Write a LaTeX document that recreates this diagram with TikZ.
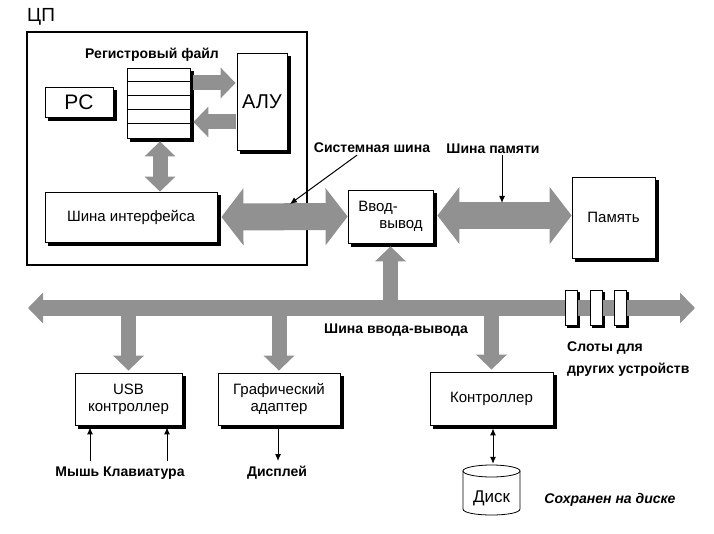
\documentclass[tikz,border=0pt]{standalone}
\usepackage{fontspec}
\setmainfont{Liberation Sans}
\usetikzlibrary{arrows.meta,calc}
\definecolor{argray}{RGB}{145,145,145}
\pgfdeclarelayer{shadowlayer}
\pgfsetlayers{shadowlayer,main}
\begin{document}
\begin{tikzpicture}[x=1pt,y=-1pt,
  box/.style={draw=black, line width=0.8pt, fill=white, rectangle, inner sep=0pt, align=center,
    font=\fontsize{15}{17}\selectfont},
  lab/.style={font=\bfseries\fontsize{14}{16}\selectfont, inner sep=1pt},
  fatthin/.style={draw=argray, line width=15pt, >={Triangle[width=30pt,length=15pt]}},
  fatthick/.style={draw=argray, line width=27pt, >={Triangle[width=56pt,length=22pt]}},
  thinarr/.style={draw=black, line width=1pt, >={Latex[length=7pt,width=6pt]}}
]
\useasboundingbox (0,0) rectangle (714,534);

% CPU
\node[draw=black, line width=2.5pt, minimum width=280pt, minimum height=233pt, inner sep=0pt] (cpu) at (167,148.5) {};
\node[anchor=west, font=\fontsize{19}{21}\selectfont, inner sep=0pt] (cpulab) at (27,17) {ЦП};

\node[lab] (rflab) at (152,55) {Регистровый файл};
\node[box, minimum width=63pt, minimum height=70pt] (rf) at (158.5,103) {};
\foreach \i in {1,...,4} \draw[line width=0.8pt] ($(rf.north west)+(0,14*\i)$) -- ($(rf.north east)+(0,14*\i)$);

\node[box, minimum width=68pt, minimum height=30pt, font=\fontsize{21}{23}\selectfont] (pc) at (79,102) {PC};
\node[box, minimum width=50pt, minimum height=97pt, font=\fontsize{20}{22}\selectfont] (alu) at (262,101.5) {АЛУ};
\node[box, minimum width=172pt, minimum height=50pt] (bi) at (131,217) {Шина интерфейса};

% internal arrows
\draw[fatthin,->] ($(rf.east)+(3,-20)$) -- ($(alu.west)+(-1,-18.5)$);
\draw[fatthin,->] ($(alu.west)+(-1,20.5)$) -- ($(rf.east)+(3,19)$);
\draw[fatthin,<->] ($(rf.south)+(1.5,3)$) -- ($(bi.north)+(29,0)$);

% bridge and memory
\node[box, minimum width=85pt, minimum height=53pt, align=left] (br) at (390.5,216.5) {Ввод-\\\hspace*{1.4em}вывод};
\node[box, minimum width=83pt, minimum height=81pt] (mem) at (613.5,217.5) {Память};

\draw[fatthick,<->] ($(bi.east)+(4,0)$) -- (br.west);
\draw[fatthick,<->] ($(br.east)+(4,-1)$) -- ($(mem.west)+(0,-2)$);

% labels with thin arrows
\node[lab] (syslab) at (372,148) {Системная шина};
\coordinate (syspt) at (290,204);
\draw[thinarr,->] ($(syslab.south)+(-15,1)$) -- (syspt);
\node[lab] (memlab) at (493,149) {Шина памяти};
\coordinate (mempt) at (502,203);
\draw[thinarr,->] (memlab.south -| mempt) -- (mempt);

% I/O bus
\coordinate (busL) at (28,308);
\coordinate (busR) at (695,308);
\draw[fatthin,<->] (busL) -- (busR);
\node[lab] (iolab) at (396,330) {Шина ввода-вывода};

% slots
\foreach \x/\n in {571/1,596/2,620/3}
  \node[box, minimum width=12pt, minimum height=35pt] (slot\n) at (\x,307.5) {};
\node[lab, anchor=north west, align=left, font=\bfseries\fontsize{14}{22}\selectfont] (slotlab) at (566,341) {Слоты для\\других устройств};

% devices
\node[box, minimum width=107pt, minimum height=52pt] (usb) at (128.5,399) {USB\\контроллер};
\node[box, minimum width=122pt, minimum height=52pt] (gfx) at (279,399) {Графический\\адаптер};
\node[box, minimum width=123pt, minimum height=53pt] (ctrl) at (491.5,398.5) {Контроллер};

\draw[fatthin,->] (br.south |- busL) -- ($(br.south)+(0,3)$);
\draw[fatthin,->] (usb.north |- busL) -- ($(usb.north)+(0,-2)$);
\draw[fatthin,->] (gfx.north |- busL) -- ($(gfx.north)+(0,-2)$);
\draw[fatthin,->] (ctrl.north |- busL) -- ($(ctrl.north)+(0,-2)$);

% drop shadows (behind everything)
\begin{pgfonlayer}{shadowlayer}
  \foreach \n in {rf,pc,alu,bi,br,mem,usb,gfx,ctrl}
    \fill[black] ($(\n.north west)+(3.5,3.5)$) rectangle ($(\n.south east)+(3.5,3.5)$);
  \foreach \n in {slot1,slot2,slot3}
    \fill[black] ($(\n.north west)+(2.5,2.5)$) rectangle ($(\n.south east)+(2.5,2.5)$);
\end{pgfonlayer}

% USB inputs
\node[lab] (inputs) at (120,473) {Мышь Клавиатура};
\coordinate (mouseA) at (90,461);
\coordinate (kbdA) at (167,461);
\draw[thinarr,->] (mouseA) -- ($(usb.south -| mouseA)+(0,2)$);
\draw[thinarr,->] (kbdA) -- ($(usb.south -| kbdA)+(0,2)$);

% display
\node[lab] (disp) at (277,473) {Дисплей};
\coordinate (dispA) at (278,461);
\draw[thinarr,->] ($(gfx.south)+(-1,3)$) -- (dispA);

% disk
\node[minimum width=57pt, minimum height=50pt, inner sep=0pt] (disk) at (491.5,490) {};
\draw[line width=0.8pt, fill=white] (463,471) -- (463,509) .. controls (463,517) and (520,517) .. (520,509) -- (520,471) -- cycle;
\draw[line width=0.8pt, fill=white] (491.5,471) ellipse (28.5 and 6);
\node[font=\fontsize{17}{19}\selectfont, inner sep=0pt] (disktext) at (491.5,498) {Диск};
\draw[thinarr,<->] ($(ctrl.south)+(1.5,3)$) -- ($(disk.north)+(1.5,-1)$);
\node[lab, font=\bfseries\itshape\fontsize{14}{16}\selectfont] (saved) at (610,500) {Сохранен на диске};
\end{tikzpicture}
\end{document}
